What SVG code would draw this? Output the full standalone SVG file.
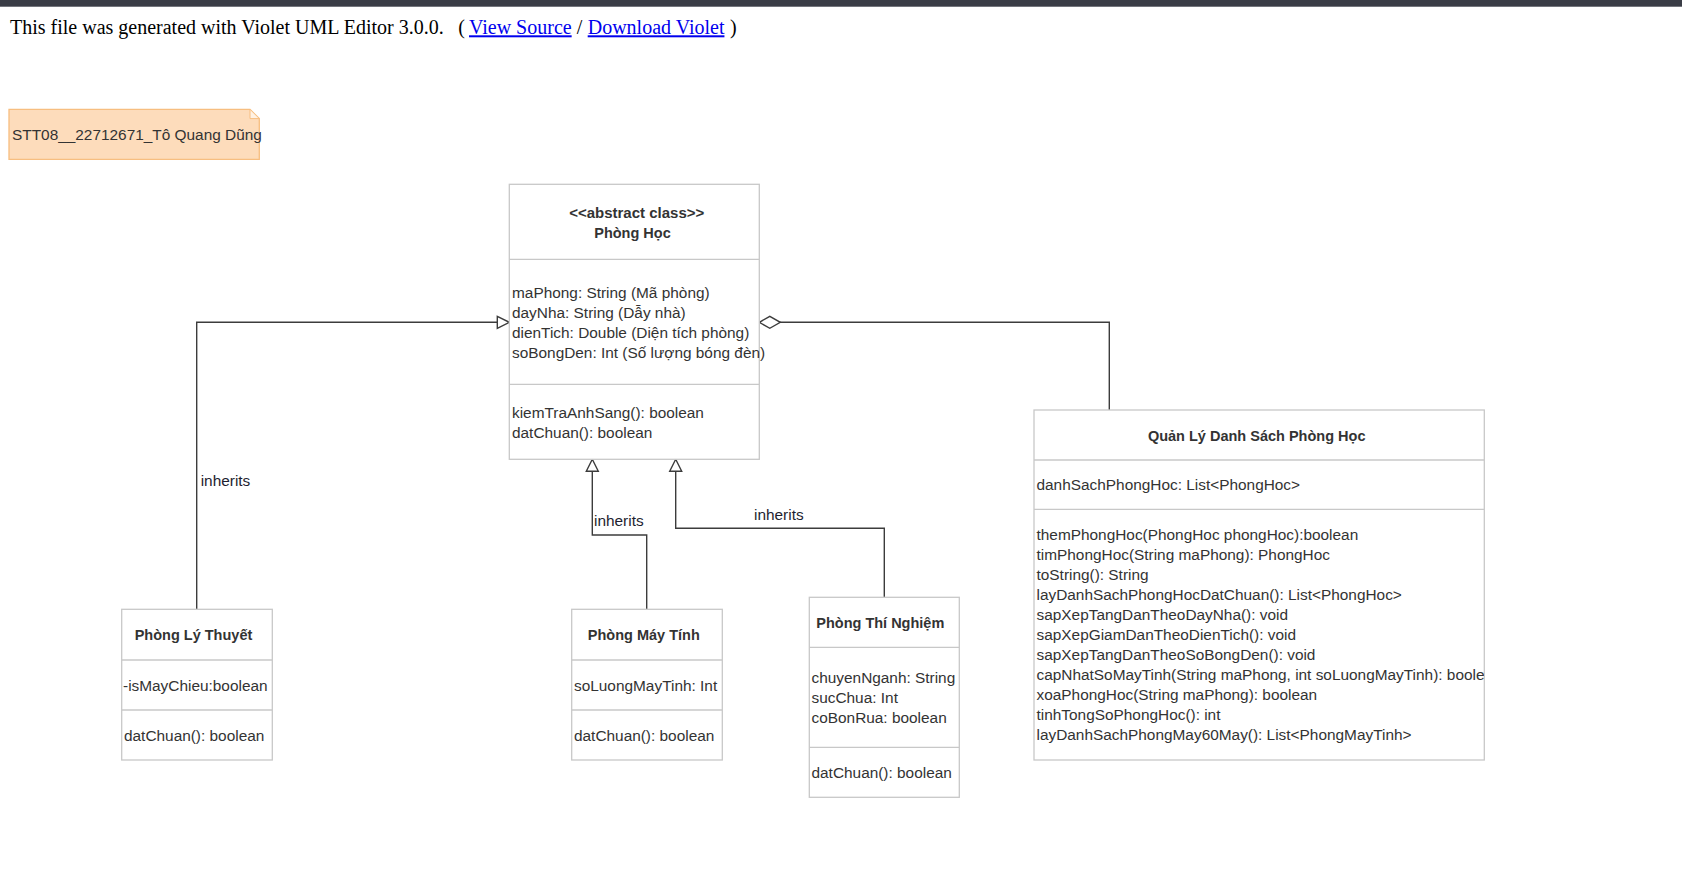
<svg xmlns="http://www.w3.org/2000/svg" width="1682" height="892" viewBox="0 0 1682 892">
<style>
.box{fill:#ffffff;stroke:#c8c8c8;stroke-width:1.3}
.div{stroke:#c8c8c8;stroke-width:1.3;fill:none}
.t{font-family:"Liberation Sans",Arial,sans-serif;font-size:15.4px;fill:#333333}
.b{font-family:"Liberation Sans",Arial,sans-serif;font-size:14.5px;font-weight:bold;fill:#333333;text-anchor:middle}
.lbl{font-family:"Liberation Sans",Arial,sans-serif;font-size:15.4px;fill:#1e1e30}
.edge{fill:none;stroke:#3c3c3c;stroke-width:1.4}
.hdr{font-family:"Liberation Serif","Times New Roman",serif;font-size:20px;fill:#000000}
.lnk{fill:#0000ee;text-decoration:underline}
</style>
<defs>
<marker id="tri" viewBox="0 0 12 12" refX="12" refY="6" markerWidth="12" markerHeight="12" markerUnits="userSpaceOnUse" orient="auto" overflow="visible">
<path d="M0,0 L12,6 L0,12 Z" fill="#ffffff" stroke="#3c3c3c" stroke-width="1.4"/>
</marker>
<marker id="dia" viewBox="0 0 21 12" refX="0" refY="6" markerWidth="21" markerHeight="12" markerUnits="userSpaceOnUse" orient="auto" overflow="visible">
<path d="M0,6 L10.5,0 L21,6 L10.5,12 Z" fill="#ffffff" stroke="#3c3c3c" stroke-width="1.4"/>
</marker>
<clipPath id="clipQL"><rect x="1034" y="410" width="450.3" height="350"/></clipPath>
</defs>
<rect x="0" y="0" width="1682" height="892" fill="#ffffff"/>
<rect x="0" y="0" width="1682" height="6.7" fill="#3a3d46"/>
<g id="header">
<text class="hdr" x="10" y="34.3">This file was generated with Violet UML Editor 3.0.0.</text>
<text class="hdr" x="458.3" y="34.3">(</text>
<text class="hdr lnk" x="469" y="34.3">View Source</text>
<text class="hdr" x="576.7" y="34.3">/</text>
<text class="hdr lnk" x="587.7" y="34.3">Download Violet</text>
<text class="hdr" x="730" y="34.3">)</text>
</g>
<g id="note">
<path d="M9,109.3 H250 L259.3,118.6 V159.3 H9 Z" fill="#fddcbb" stroke="#f7be80" stroke-width="1.3"/>
<path d="M250,109.3 V118.6 H259.3 Z" fill="#fff2e4" stroke="#f7be80" stroke-width="1"/>
<text class="t" x="12" y="139.5">STT08__22712671_Tô Quang Dũng</text>
</g>
<g id="connectors">
<path class="edge" d="M196.7,609.3 V322.3 H509.3" marker-end="url(#tri)"/>
<path class="edge" d="M646.7,609.3 V535 H592.3 V459.3" marker-end="url(#tri)"/>
<path class="edge" d="M884.3,597.3 V528.3 H675.7 V459.3" marker-end="url(#tri)"/>
<path class="edge" d="M759.3,322.3 H1109.3 V410" marker-start="url(#dia)"/>
<text class="lbl" x="200.7" y="485.5">inherits</text>
<text class="lbl" x="594" y="526">inherits</text>
<text class="lbl" x="754" y="520">inherits</text>
</g>
<g id="phong-hoc">
<rect class="box" x="509.3" y="184.3" width="250" height="275"/>
<line class="div" x1="509.3" y1="259.3" x2="759.3" y2="259.3"/>
<line class="div" x1="509.3" y1="384.3" x2="759.3" y2="384.3"/>
<text class="b" x="636.7" y="217.5" style="font-size:15px">&lt;&lt;abstract class&gt;&gt;</text>
<text class="b" x="632.5" y="237.5">Phòng Học</text>
<text class="t" x="512" y="298.3">maPhong: String (Mã phòng)</text>
<text class="t" x="512" y="318.3">dayNha: String (Dẫy nhà)</text>
<text class="t" x="512" y="338.3">dienTich: Double (Diện tích phòng)</text>
<text class="t" x="512" y="358.3">soBongDen: Int (Số lượng bóng đèn)</text>
<text class="t" x="512" y="417.5">kiemTraAnhSang(): boolean</text>
<text class="t" x="512" y="437.5">datChuan(): boolean</text>
</g>
<g id="quan-ly">
<rect class="box" x="1034" y="410" width="450.3" height="350"/>
<line class="div" x1="1034" y1="460" x2="1484.3" y2="460"/>
<line class="div" x1="1034" y1="509.3" x2="1484.3" y2="509.3"/>
<text class="b" x="1256.7" y="440.5">Quản Lý Danh Sách Phòng Học</text>
<g clip-path="url(#clipQL)">
<text class="t" x="1036.5" y="490">danhSachPhongHoc: List&lt;PhongHoc&gt;</text>
<text class="t" x="1036.5" y="540">themPhongHoc(PhongHoc phongHoc):boolean</text>
<text class="t" x="1036.5" y="560">timPhongHoc(String maPhong): PhongHoc</text>
<text class="t" x="1036.5" y="580">toString(): String</text>
<text class="t" x="1036.5" y="600">layDanhSachPhongHocDatChuan(): List&lt;PhongHoc&gt;</text>
<text class="t" x="1036.5" y="620">sapXepTangDanTheoDayNha(): void</text>
<text class="t" x="1036.5" y="640">sapXepGiamDanTheoDienTich(): void</text>
<text class="t" x="1036.5" y="660">sapXepTangDanTheoSoBongDen(): void</text>
<text class="t" x="1036.5" y="680">capNhatSoMayTinh(String maPhong, int soLuongMayTinh): boolean</text>
<text class="t" x="1036.5" y="700">xoaPhongHoc(String maPhong): boolean</text>
<text class="t" x="1036.5" y="720">tinhTongSoPhongHoc(): int</text>
<text class="t" x="1036.5" y="740">layDanhSachPhongMay60May(): List&lt;PhongMayTinh&gt;</text>
</g>
</g>
<g id="phong-ly-thuyet">
<rect class="box" x="121.7" y="609.3" width="150.6" height="150.7"/>
<line class="div" x1="121.7" y1="660" x2="272.3" y2="660"/>
<line class="div" x1="121.7" y1="710" x2="272.3" y2="710"/>
<text class="b" x="193.5" y="640">Phòng Lý Thuyết</text>
<text class="t" x="123" y="690.5">-isMayChieu:boolean</text>
<text class="t" x="124" y="740.5">datChuan(): boolean</text>
</g>
<g id="phong-may-tinh">
<rect class="box" x="571.7" y="609.3" width="150.6" height="150.7"/>
<line class="div" x1="571.7" y1="660" x2="722.3" y2="660"/>
<line class="div" x1="571.7" y1="710" x2="722.3" y2="710"/>
<text class="b" x="643.8" y="640">Phòng Máy Tính</text>
<text class="t" x="574" y="690.5">soLuongMayTinh: Int</text>
<text class="t" x="574" y="740.5">datChuan(): boolean</text>
</g>
<g id="phong-thi-nghiem">
<rect class="box" x="809.3" y="597.3" width="150" height="200"/>
<line class="div" x1="809.3" y1="647.3" x2="959.3" y2="647.3"/>
<line class="div" x1="809.3" y1="747.3" x2="959.3" y2="747.3"/>
<text class="b" x="880.3" y="628">Phòng Thí Nghiệm</text>
<text class="t" x="811.5" y="683">chuyenNganh: String</text>
<text class="t" x="811.5" y="703">sucChua: Int</text>
<text class="t" x="811.5" y="723">coBonRua: boolean</text>
<text class="t" x="811.5" y="778">datChuan(): boolean</text>
</g>
</svg>
